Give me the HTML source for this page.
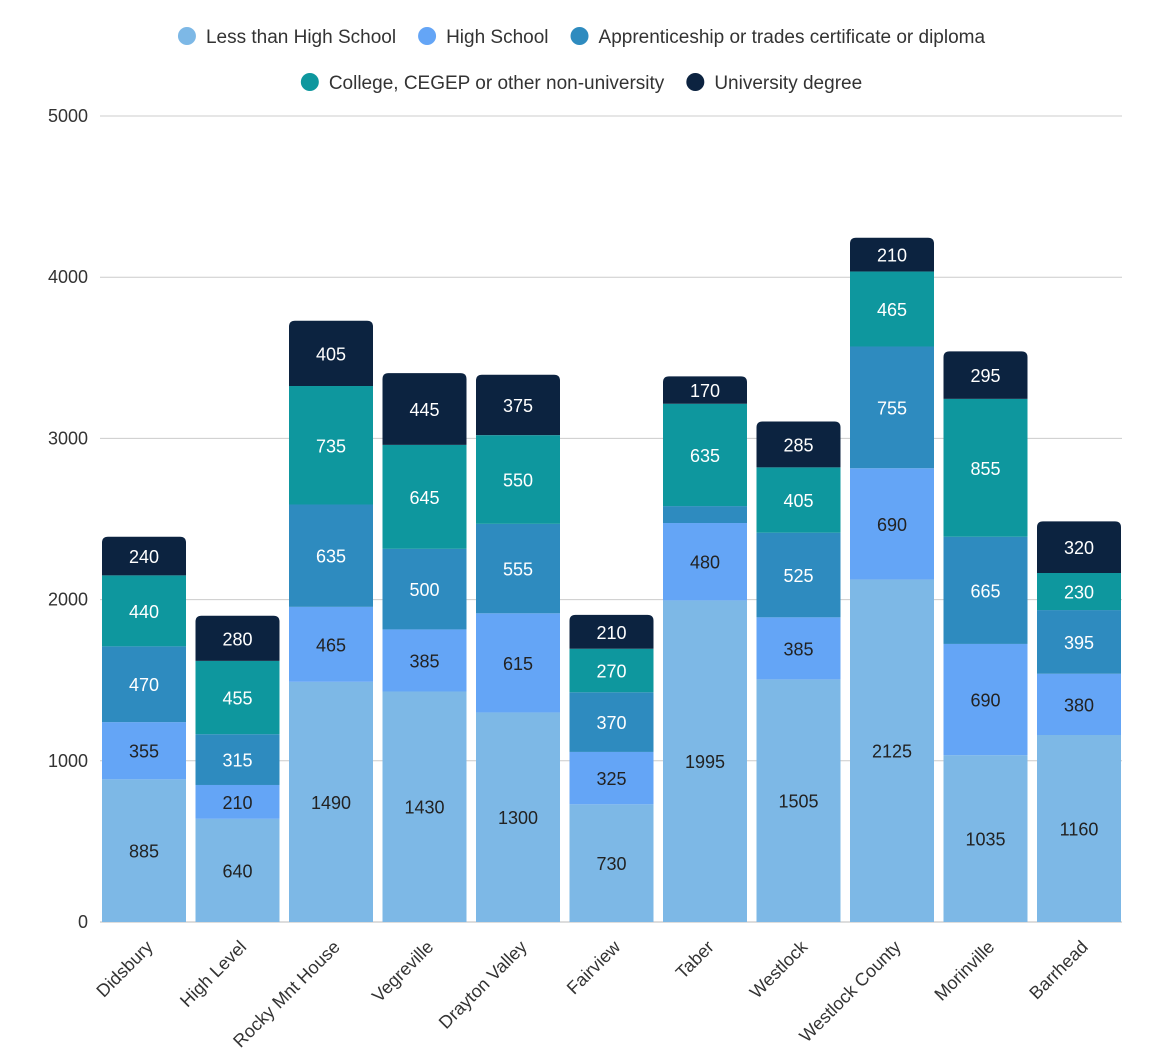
<!DOCTYPE html>
<html><head><meta charset="utf-8"><style>
body{margin:0;background:#fff;font-family:"Liberation Sans",sans-serif;}
svg text{font-family:"Liberation Sans",sans-serif;}
</style></head><body>
<svg id="chart" width="1163" height="1055" xmlns="http://www.w3.org/2000/svg">
<g id="legend"></g>
<g id="grid"></g>
<g id="bars"></g>
<g id="xlabels"></g>
</svg>
<script>
const categories=["Didsbury","High Level","Rocky Mnt House","Vegreville","Drayton Valley","Fairview","Taber","Westlock","Westlock County","Morinville","Barrhead"];
const lessHS=[885,640,1490,1430,1300,730,1995,1505,2125,1035,1160];
const highSchool=[355,210,465,385,615,325,480,385,690,690,380];
const apprent=[470,315,635,500,555,370,105,525,755,665,395];
const college=[440,455,735,645,550,270,635,405,465,855,230];
const univ=[240,280,405,445,375,210,170,285,210,295,320];
const yTicks=[0,1000,2000,3000,4000,5000];
const seriesNames=["Less than High School","High School","Apprenticeship or trades certificate or diploma","College, CEGEP or other non-university","University degree"];
const seriesData=[lessHS,highSchool,apprent,college,univ];
const colors=["#7db8e6","#64a5f6","#2e8bbf","#0e979e","#0c2340"];
const textColors=["#222","#222","#fff","#fff","#fff"];
const NS="http://www.w3.org/2000/svg";
function mk(tag,attrs,parent){const e=document.createElementNS(NS,tag);for(const k in attrs)e.setAttribute(k,attrs[k]);parent.appendChild(e);return e;}
const y0=922,yTop=116,maxV=5000;
function yS(v){return y0-(v/maxV)*(y0-yTop);}
const xStart=102,step=93.5,bw=84;
function xS(i){return xStart+i*step;}
const grid=document.getElementById('grid');
yTicks.forEach(t=>{
 const l=mk('line',{x1:100,x2:1122,y1:yS(t),y2:yS(t),stroke:t===0?'#bbb':'#ccc','stroke-width':1},grid);
 
 
 const tx=mk('text',{x:88,y:yS(t)+6,'text-anchor':'end','font-size':18,fill:'#333'},grid);
 tx.textContent=t;
 
 
});
const bars=document.getElementById('bars');
categories.forEach((c,i)=>{
 let cum=0;
 const g=mk('g',{},bars);
 
 
 seriesData.forEach((s,k)=>{
  const v=s[i];const yb=yS(cum),yt=yS(cum+v);cum+=v;
  let r;
  if(k===seriesData.length-1){
   const x=xS(i),rad=6;
   r=mk('path',{d:`M${x},${yb}V${yt+rad}Q${x},${yt} ${x+rad},${yt}H${x+bw-rad}Q${x+bw},${yt} ${x+bw},${yt+rad}V${yb}Z`,fill:colors[k]},g);
  } else r=mk('rect',{x:xS(i),y:yt,width:bw,height:yb-yt,fill:colors[k]},g);
  
  
  if(yb-yt>18){
   const t=mk('text',{x:xS(i)+bw/2,y:(yb+yt)/2+7,'text-anchor':'middle','font-size':18,fill:textColors[k]},g);
   t.textContent=v;
   
   
  }
 });
});
const xl=document.getElementById('xlabels');
categories.forEach((c,i)=>{
 const cx=xS(i)+bw/2+10,cy=948;
 const t=mk('text',{x:cx,y:cy,'text-anchor':'end','font-size':18,fill:'#333',transform:`rotate(-45 ${cx} ${cy})`},xl);
 t.textContent=c;
 
 
});
const lg=document.getElementById('legend');
const rows=[[0,1,2],[3,4]];
const rowY=[36,82];
const tmp=mk('text',{'font-size':19},lg);
rows.forEach((row,ri)=>{
 const widths=row.map(k=>{tmp.textContent=seriesNames[k];return tmp.getComputedTextLength();});
 const total=widths.reduce((a,b)=>a+b,0)+row.length*28+(row.length-1)*22;
 let x=(1163-total)/2;
 row.forEach((k,j)=>{
  const g=mk('g',{},lg);
  
  
  mk('circle',{cx:x+9,cy:rowY[ri],r:9,fill:colors[k]},g);
  const t=mk('text',{x:x+28,y:rowY[ri]+7,'font-size':19,fill:'#333'},g);
  t.textContent=seriesNames[k];
  x+=28+widths[j]+22;
 });
});
tmp.remove();
</script>
</body></html>
